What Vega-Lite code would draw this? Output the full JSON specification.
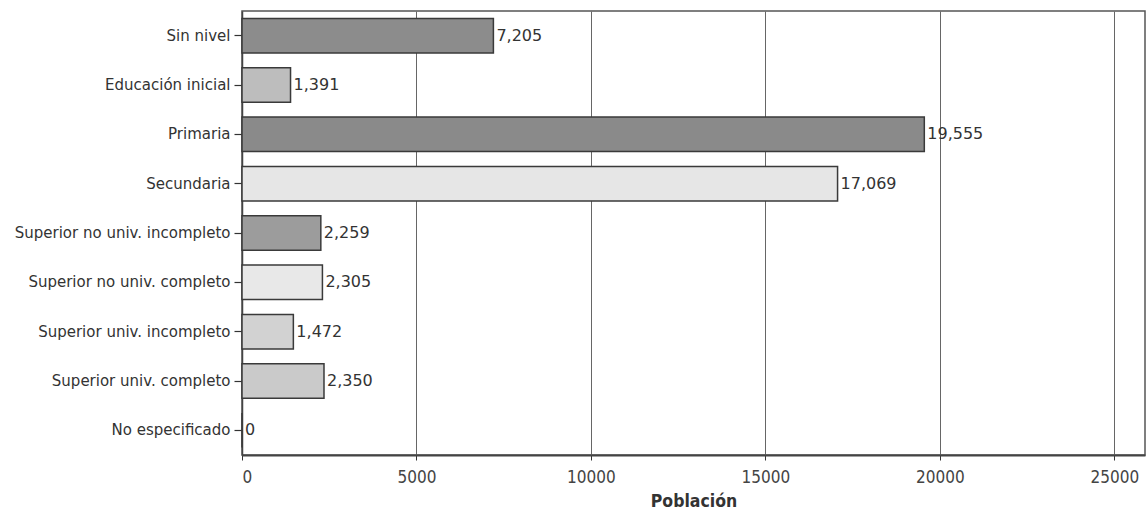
{
  "$schema": "https://vega.github.io/schema/vega-lite/v6.json",
  "autosize": "none",
  "width": 903,
  "height": 444,
  "padding": {"left": 242, "top": 11, "right": 2, "bottom": 57},
  "background": "white",
  "config": {
    "view": {"stroke": "#555555", "strokeWidth": 1.5},
    "font": "DejaVu Sans"
  },
  "data": {
    "values": [
      {"nivel": "Sin nivel", "poblacion": 7205},
      {"nivel": "Educación inicial", "poblacion": 1391},
      {"nivel": "Primaria", "poblacion": 19555},
      {"nivel": "Secundaria", "poblacion": 17069},
      {"nivel": "Superior no univ. incompleto", "poblacion": 2259},
      {"nivel": "Superior no univ. completo", "poblacion": 2305},
      {"nivel": "Superior univ. incompleto", "poblacion": 1472},
      {"nivel": "Superior univ. completo", "poblacion": 2350},
      {"nivel": "No especificado", "poblacion": 0}
    ]
  },
  "encoding": {
    "y": {
      "field": "nivel",
      "type": "nominal",
      "sort": null,
      "scale": {"paddingInner": 0.3, "paddingOuter": 0.15},
      "axis": {
        "title": null,
        "labelFontSize": 15,
        "labelColor": "#333333",
        "labelFont": "DejaVu Sans",
        "labelLimit": 0,
        "tickColor": "#333333",
        "tickSize": 8,
        "tickWidth": 1.2,
        "labelPadding": 4,
        "domainColor": "#444444",
        "domainWidth": 1.5
      }
    },
    "x": {
      "field": "poblacion",
      "type": "quantitative",
      "scale": {"domain": [0, 25880], "nice": false},
      "axis": {
        "title": "Población",
        "titleFontSize": 17.5,
        "titleFont": "DejaVu Sans Condensed",
        "titleFontWeight": "bold",
        "titleColor": "#333333",
        "titlePadding": 7,
        "values": [0, 5000, 10000, 15000, 20000, 25000],
        "format": "d",
        "labelFontSize": 17,
        "labelFont": "DejaVu Sans Condensed",
        "labelColor": "#444444",
        "labelPadding": 9,
        "ticks": true,
        "tickSize": 5,
        "tickColor": "#333333",
        "grid": true,
        "gridColor": "#666666",
        "gridWidth": 1,
        "domainColor": "#444444",
        "domainWidth": 2
      }
    }
  },
  "layer": [
    {
      "mark": {"type": "bar", "stroke": "#3a3a3a", "strokeWidth": 1.5},
      "encoding": {
        "color": {
          "field": "nivel",
          "type": "nominal",
          "legend": null,
          "scale": {
            "domain": ["Sin nivel", "Educación inicial", "Primaria", "Secundaria", "Superior no univ. incompleto", "Superior no univ. completo", "Superior univ. incompleto", "Superior univ. completo", "No especificado"],
            "range": ["#8c8c8c", "#bdbdbd", "#8a8a8a", "#e6e6e6", "#9c9c9c", "#e8e8e8", "#d2d2d2", "#cacaca", "#cccccc"]
          }
        }
      }
    },
    {
      "mark": {"type": "text", "align": "left", "dx": 3, "fontSize": 16, "color": "#333333", "font": "DejaVu Sans"},
      "encoding": {
        "text": {"field": "poblacion", "type": "quantitative", "format": ","}
      }
    }
  ]
}
